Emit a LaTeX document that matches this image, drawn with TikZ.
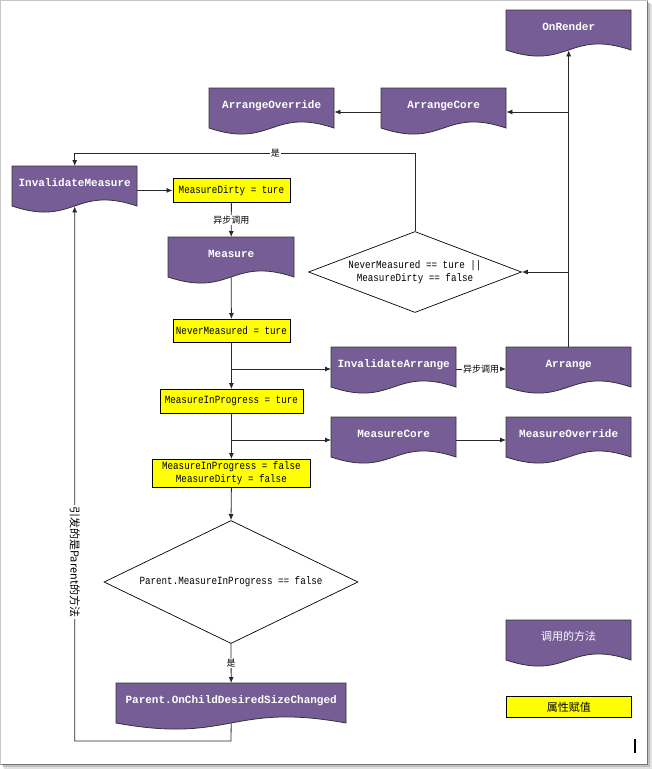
\documentclass[tikz,border=0pt]{standalone}
\usepackage{fontspec}
\usetikzlibrary{arrows.meta,shapes.geometric}
\setmainfont{Liberation Serif}
\newfontfamily\cjk{Noto Sans CJK SC}
\newfontfamily\bmono{Liberation Mono}
\newfontfamily\nmono[FakeStretch=0.84]{Liberation Mono}
\definecolor{docpurple}{RGB}{118,93,150}
\definecolor{propyellow}{RGB}{255,255,0}
\definecolor{linegray}{RGB}{40,40,40}
\tikzset{
  docshape/.style={fill=docpurple, draw=black!80, line width=0.8pt},
  doctext/.style={anchor=north west, inner sep=0pt, text height=20.5pt, text depth=19.5pt, text=white, font=\bmono\bfseries\fontsize{11}{13}\selectfont},
  propbox/.style={anchor=north west, fill=propyellow, draw=black, line width=0.8pt, inner sep=0pt, align=center, font=\nmono\fontsize{11}{13}\selectfont},
  decision/.style={diamond, draw=black, line width=0.7pt, inner sep=0pt, align=center, font=\nmono\fontsize{11}{13}\selectfont},
  conn/.style={draw=linegray, line width=0.8pt, -{Latex[length=6pt,width=5pt]}},
  edgelabel/.style={fill=white, inner sep=1pt, font=\cjk\fontsize{9}{10}\selectfont},
  sidelabel/.style={fill=white, inner sep=1.5pt, font=\cjk\fontsize{11}{12}\selectfont},
}
\newcommand\docnode[5]{%
  \path[docshape] (#2,#3) -- (#2+#4,#3) -- (#2+#4,#3+40)
    .. controls (#2+0.5*#4,#3+40-21) and (#2+0.5*#4,#3+40+21) .. (#2,#3+40) -- cycle;
  \node[doctext, minimum width=#4pt] (#1) at (#2,#3) {#5};}
\begin{document}
\begin{tikzpicture}[x=1pt,y=-1pt]
\useasboundingbox (0,0) rectangle (652,769);
% frame
\fill[black!12] (649,4) rectangle (652,769);
\fill[black!12] (4,766) rectangle (652,769);
\fill[black!25] (648,3) rectangle (650,767);
\fill[black!25] (3,765) rectangle (650,767);
\draw[black!22, line width=1pt] (0.5,764.5) -- (0.5,0.5) -- (647.5,0.5);
\draw[black!55, line width=1pt] (647.5,0.5) -- (647.5,764.5) -- (0.5,764.5);

% method boxes
\docnode{onrender}{506}{10}{125}{OnRender}
\docnode{arrover}{209}{88}{125}{ArrangeOverride}
\docnode{arrcore}{381}{88}{125}{ArrangeCore}
\docnode{invmeas}{12}{166}{125}{InvalidateMeasure}
\docnode{measure}{168}{237}{126}{Measure}
\docnode{invarr}{331}{347}{125}{InvalidateArrange}
\docnode{arrange}{506}{347}{125}{Arrange}
\docnode{meascore}{331}{417}{125}{MeasureCore}
\docnode{measover}{506}{417}{125}{MeasureOverride}
\docnode{parent}{116}{683}{230}{Parent.OnChildDesiredSizeChanged}
\docnode{legdoc}{506}{620}{125}{\cjk\mdseries 调用的方法}

% property boxes
\node[propbox, minimum width=117pt, minimum height=24pt] (mdirty) at (172.5,178) {MeasureDirty = ture};
\node[propbox, minimum width=117pt, minimum height=23pt] (nevm) at (172.5,319) {NeverMeasured = ture};
\node[propbox, minimum width=143pt, minimum height=24pt] (mipt) at (159.5,389) {MeasureInProgress = ture};
\node[propbox, minimum width=158pt, minimum height=28pt] (mipf) at (152,459) {MeasureInProgress = false\\MeasureDirty = false};
\node[propbox, minimum width=125pt, minimum height=21pt, font=\cjk\fontsize{11}{12}\selectfont] (legprop) at (506,696) {属性赋值};

% decisions
\node[decision, aspect=2.63, minimum width=213pt, minimum height=81pt] (d1) at (415,272) {NeverMeasured == ture ||\\MeasureDirty == false};
\node[decision, aspect=2.07, minimum width=254pt, minimum height=123pt] (d2) at (231,582) {Parent.MeasureInProgress == false};

% connectors
\draw[conn] (arrange.north) -- (onrender.south);
\coordinate (jarr) at (568.5,112);
\draw[conn] (jarr) -- (jarr -| arrcore.east);
\draw[conn] (arrcore.west |- jarr) -- (arrover.east |- jarr);
\coordinate (jd1) at (568.5,272);
\draw[conn] (jd1) -- (d1.east);
\coordinate (yes1) at (415,153);
\draw[conn] (d1.north) -- (yes1) -- node[edgelabel, pos=0.41]{是} (yes1 -| invmeas.north) -- (invmeas.north);
\draw[conn] (invmeas.east |- mdirty.west) -- (mdirty.west);
\draw[conn] (mdirty.south) -- node[edgelabel]{异步调用} (measure.north);
\draw[conn] (measure.south) -- (nevm.north);
\draw[conn] (nevm.south) -- (mipt.north);
\coordinate (b1) at (231,369);
\draw[conn] (b1) -- (b1 -| invarr.west);
\draw[conn] (invarr.east |- b1) -- node[edgelabel]{异步调用} (arrange.west |- b1);
\draw[conn] (mipt.south) -- (mipf.north);
\coordinate (b2) at (231,440);
\draw[conn] (b2) -- (b2 -| meascore.west);
\draw[conn] (meascore.east |- b2) -- (measover.west |- b2);
\draw[conn] (mipf.south) -- (d2.north);
\draw[conn] (d2.south) -- node[edgelabel]{是} (parent.north);
\coordinate (loopc) at (231,741);
\draw[conn] (parent.south) -- (loopc) -- (loopc -| invmeas.south) -- node[sidelabel, rotate=-90, pos=0.335]{引发的是Parent的方法} (invmeas.south);

% cursor mark
\fill[black] (633.5,739) rectangle (635.5,752.5);
\end{tikzpicture}
\end{document}
